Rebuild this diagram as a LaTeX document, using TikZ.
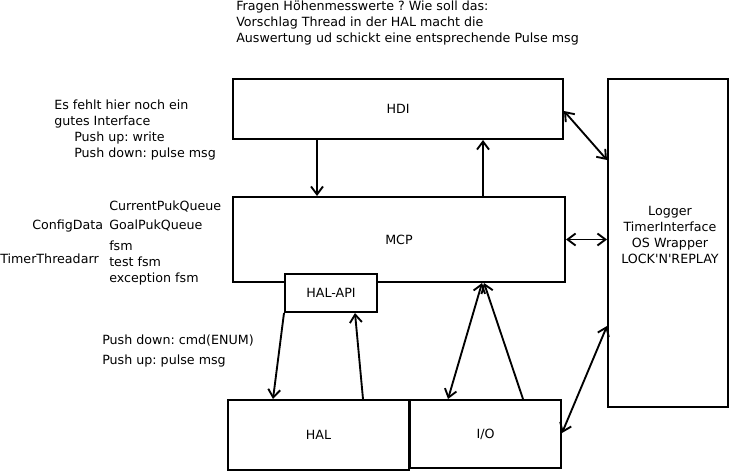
\documentclass[tikz,border=0pt]{standalone}
\usepackage{fontspec}
\setmainfont{DejaVu Sans}
\usetikzlibrary{fit,arrows.meta}
\frenchspacing

\begin{document}
\begin{tikzpicture}[x=0.75pt,y=-0.75pt,
  font=\fontsize{9.5}{12}\selectfont,
  box/.style={draw,line width=1.5pt,inner sep=0pt},
  note/.style={inner sep=0pt,anchor=west,align=left},
  link/.style={line width=1.4pt},
  >={Straight Barb[length=6pt,width=9pt]}]
\useasboundingbox (0,0) rectangle (730,471);

% boxes
\node[box,fit={(233,79)(563,139)},label=center:HDI] (hdi) {};
\node[box,fit={(233,197)(565,282)},label=center:MCP] (mcp) {};
\node[box,fill=white,fit={(285,274)(377,312)},label=center:HAL-API] (hapi) {};
\node[box,fit={(228,400)(409,470)},label=center:HAL] (hal) {};
\node[box,fit={(410,400)(561,468)},label=center:I/O] (io) {};
\node[box,fit={(608,79)(728,407)}] (logger) {};
\node[align=center,inner sep=0pt] (loggertxt) at (670,235) {Logger\\TimerInterface\\OS Wrapper\\LOCK\textquotesingle N\textquotesingle REPLAY};

% notes
\node[note] (frage) at (236,23) {Fragen Höhenmesswerte ? Wie soll das:\\Vorschlag Thread in der HAL macht die\\Auswertung ud schickt eine entsprechende Pulse msg};
\node[note] (iface) at (54,130) {Es fehlt hier noch ein\\gutes Interface\\\hspace*{15pt}Push up: write\\\hspace*{15pt}Push down: pulse msg};
\node[note] (curq) at (109,207) {CurrentPukQueue};
\node[note] (goalq) at (109,226) {GoalPukQueue};
\node[note] (config) at (32,226) {ConfigData};
\node[note] (fsm) at (109,263) {fsm\\test fsm\\exception fsm};
\node[note] (timer) at (0,259) {TimerThreadarr};
\node[note] (pdown) at (102,341) {Push down: cmd(ENUM)};
\node[note] (pup) at (102,361) {Push up: pulse msg};

% connectors
\draw[link,->] (hdi.south -| 317,0) -- (mcp.north -| 317,0);
\draw[link,->] (mcp.north -| 483,0) -- (hdi.south -| 483,0);
\draw[link,<->] (hdi.east |- 0,111) -- (logger.west |- 0,160);
\draw[link,<->] (mcp.east) -- (logger.west |- mcp.east);
\draw[link,->] (hapi.south west) -- (hal.north -| 273,0);
\draw[link,->] (hal.north -| 363,0) -- (hapi.south -| 355,0);
\draw[link,<->] (mcp.south -| 482,0) -- (io.north -| 448,0);
\draw[link,->] (io.north -| 523,0) -- (mcp.south -| 484,0);
\draw[link,<->] (io.east |- 0,433) -- (logger.west |- 0,326);
\end{tikzpicture}
\end{document}
